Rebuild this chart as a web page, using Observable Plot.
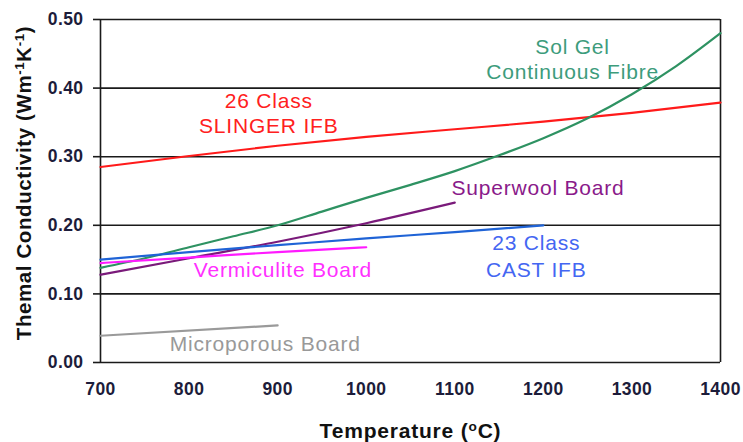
<!DOCTYPE html>
<html>
<head>
<meta charset="utf-8">
<script src="https://cdn.jsdelivr.net/npm/d3@7"></script>
<script src="https://cdn.jsdelivr.net/npm/@observablehq/plot@0.6"></script>
<style>
  html, body { margin: 0; padding: 0; background: #fff; }
  #chart svg { display: block; }
</style>
</head>
<body>
<div id="chart"></div>
<script>
// Tick values
const xTicks = [700, 800, 900, 1000, 1100, 1200, 1300, 1400];
const yTicks = [0, 0.1, 0.2, 0.3, 0.4, 0.5];

// Series (temperature °C, thermal conductivity W/mK)
const slingerT = [700, 800, 900, 1000, 1100, 1200, 1300, 1400];
const slingerK = [0.285, 0.301, 0.316, 0.329, 0.340, 0.351, 0.364, 0.379];

const solGelT = [700, 750, 800, 850, 900, 950, 1000, 1050, 1100, 1150, 1200, 1250, 1300, 1350, 1400];
const solGelK = [0.138, 0.152, 0.168, 0.184, 0.200, 0.220, 0.240, 0.259, 0.279, 0.302, 0.327, 0.356, 0.391, 0.432, 0.480];

const superwoolT = [700, 800, 900, 1000, 1100];
const superwoolK = [0.128, 0.152, 0.176, 0.203, 0.233];

const castT = [700, 800, 900, 1000, 1100, 1200];
const castK = [0.150, 0.161, 0.171, 0.181, 0.190, 0.200];

const vermT = [700, 800, 900, 1000];
const vermK = [0.145, 0.153, 0.161, 0.168];

const microT = [700, 900];
const microK = [0.039, 0.054];

const seriesNames = ["26 Class SLINGER IFB", "Sol Gel Continuous Fibre", "Superwool Board", "23 Class CAST IFB", "Vermiculite Board", "Microporous Board"];
const seriesT = [slingerT, solGelT, superwoolT, castT, vermT, microT];
const seriesK = [slingerK, solGelK, superwoolK, castK, vermK, microK];
const lineColors = ["#ff1a1a", "#2e9262", "#7a1a7a", "#1f63d6", "#ff1aff", "#9a9a9a"];

// Labels (text, anchor temperature, anchor conductivity)
const labelTexts = ["26 Class", "SLINGER IFB", "Sol Gel", "Continuous Fibre", "Superwool Board", "23 Class", "CAST IFB", "Vermiculite Board", "Microporous Board"];
const labelT = [890, 890, 1233, 1233, 1194, 1192, 1192, 906, 886];
const labelK = [0.381, 0.344, 0.459, 0.423, 0.254, 0.174, 0.134, 0.134, 0.026];
const labelColors = ["#ff2020", "#ff2020", "#3d9c7c", "#3d9c7c", "#8a1a8a", "#4466f2", "#4466f2", "#ff30ff", "#999999"];

const lineData = seriesNames.flatMap((name, i) =>
  seriesT[i].map((t, j) => ({name, t, k: seriesK[i][j], color: lineColors[i]}))
);
const labelData = labelTexts.map((text, i) => ({text, t: labelT[i], k: labelK[i], color: labelColors[i]}));

const font = "'Liberation Sans', Arial, Helvetica, sans-serif";

const chart = Plot.plot({
  width: 743,
  height: 442,
  marginLeft: 100,
  marginRight: 23,
  marginTop: 19,
  marginBottom: 80,
  style: {fontFamily: font, background: "#fff", overflow: "visible"},
  x: {domain: [700, 1400]},
  y: {domain: [0, 0.5]},
  marks: [
    Plot.ruleY(yTicks, {y: d => d, stroke: "#1a1a1a", strokeWidth: 1.6}),
    Plot.ruleX([700, 1400], {x: d => d, stroke: "#1a1a1a", strokeWidth: 1.6}),
    Plot.axisX({
      ticks: xTicks, tickSize: 7, tickPadding: 13, tickFormat: d3.format("d"),
      fontSize: 17.5, fontWeight: "bold", fill: "#1c1c3a", stroke: null,
      label: "Temperature (oC)", labelAnchor: "center", labelOffset: 75
    }),
    Plot.axisY({
      ticks: yTicks, tickSize: 7, tickPadding: 10, tickFormat: d3.format(".2f"),
      fontSize: 17.5, fontWeight: "bold", fill: "#1c1c3a",
      label: "Themal Conductivity (Wm-1K-1)", labelAnchor: "center", labelOffset: 84
    }),
    Plot.line(lineData, {x: "t", y: "k", z: "name", stroke: "color", strokeWidth: 2.2, curve: "monotone-x"}),
    Plot.text(labelData, {x: "t", y: "k", text: "text", fill: "color", fontSize: 21, textAnchor: "middle", lineAnchor: "middle"})
  ]
});

document.getElementById("chart").appendChild(chart);

const svg = d3.select(chart);
// stroke colour/width for tick marks
svg.selectAll('g[aria-label="x-axis tick"] path, g[aria-label="y-axis tick"] path')
  .attr("stroke", "#1a1a1a").attr("stroke-width", 1.6);
svg.selectAll('g[aria-label="x-axis tick label"] text, g[aria-label="y-axis tick label"] text')
  .style("letter-spacing", "0.4px");
svg.selectAll('g[aria-label="text"] text').style("letter-spacing", "0.8px");

function superscriptLabel(sel, parts) {
  sel.each(function() {
    const t = d3.select(this);
    t.text(null);
    parts.forEach(([s, sup]) => {
      const ts = t.append("tspan").text(s);
      if (sup) ts.attr("baseline-shift", "super").attr("font-size", "65%");
    });
  });
}
const xl = svg.selectAll('g[aria-label="x-axis label"] text')
  .attr("font-size", 21).attr("font-weight", "bold").attr("fill", "#111").style("letter-spacing", "0.8px");
superscriptLabel(xl, [["Temperature (", false], ["o", true], ["C)", false]]);
const yl = svg.selectAll('g[aria-label="y-axis label"] text')
  .attr("font-size", 20.5).attr("font-weight", "bold").attr("fill", "#111").style("letter-spacing", "0.6px")
  .attr("transform", function() { return (d3.select(this).attr("transform") || "") + " translate(8,0)"; });
superscriptLabel(yl, [["Themal Conductivity (Wm", false], ["-1", true], ["K", false], ["-1", true], [")", false]]);
</script>
</body>
</html>
